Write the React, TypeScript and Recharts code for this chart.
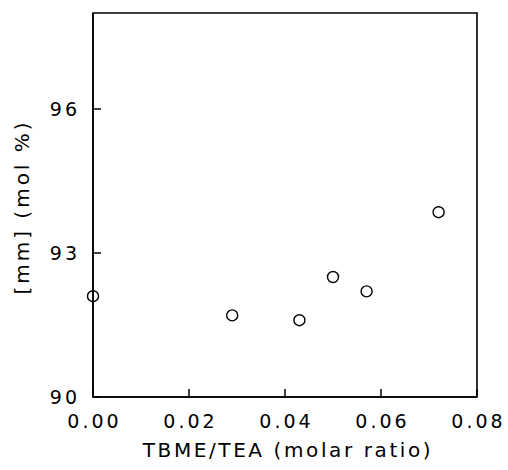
import React from 'react';
import { ScatterChart, Scatter, XAxis, YAxis, ReferenceArea, Label } from 'recharts';

// TBME/TEA molar ratio vs. isotactic triad [mm]
const ratios = [0.0, 0.029, 0.043, 0.05, 0.057, 0.072];
const mmPercent = [92.1, 91.7, 91.6, 92.5, 92.2, 93.85];
const xTicks = [0, 0.02, 0.04, 0.06, 0.08];
const yTicks = [90, 93, 96];

const points = ratios.map((r, i) => ({ ratio: r, mm: mmPercent[i] }));

const FONT = '"DejaVu Sans", sans-serif';
const TICK_LEN = 8;
const SPACING = 3;

const XTick = (props: any) => {
  const { x, y, payload } = props;
  return (
    <g>
      <line x1={x} x2={x} y1={y} y2={y - TICK_LEN} stroke="#000" strokeWidth={1.5} />
      <text
        x={x + SPACING / 2}
        y={y + 31}
        textAnchor="middle"
        fontFamily={FONT}
        fontSize={19}
        letterSpacing={SPACING}
        fill="#000"
      >
        {Number(payload.value).toFixed(2)}
      </text>
    </g>
  );
};

const YTick = (props: any) => {
  const { x, y, payload } = props;
  return (
    <g>
      <line x1={x} x2={x + TICK_LEN} y1={y} y2={y} stroke="#000" strokeWidth={1.5} />
      <text
        x={x - 16 + SPACING}
        y={y + 7}
        textAnchor="end"
        fontFamily={FONT}
        fontSize={19}
        letterSpacing={SPACING}
        fill="#000"
      >
        {payload.value}
      </text>
    </g>
  );
};

const OpenCircle = (props: any) => (
  <circle cx={props.cx} cy={props.cy} r={5.5} fill="none" stroke="#000" strokeWidth={1.4} />
);

export default function App() {
  return (
    <div style={{ position: 'absolute', left: 0, top: 0, background: '#fff' }}>
      <ScatterChart width={508} height={470} margin={{ top: 13, right: 31, bottom: 0, left: 0 }}>
        <XAxis
          type="number"
          dataKey="ratio"
          domain={[0, 0.08]}
          ticks={xTicks}
          tick={<XTick />}
          tickLine={false}
          tickSize={0}
          tickMargin={0}
          height={73}
          axisLine={{ stroke: '#000', strokeWidth: 1.6 }}
          interval={0}
        >
          <Label
            content={(p: any) => {
              const vb = p.viewBox;
              return (
                <text
                  x={vb.x + vb.width / 2 + 3}
                  y={vb.y + 60}
                  textAnchor="middle"
                  fontFamily={FONT}
                  fontSize={20}
                  letterSpacing={2.6}
                  fill="#000"
                >
                  TBME/TEA (molar ratio)
                </text>
              );
            }}
          />
        </XAxis>
        <YAxis
          type="number"
          dataKey="mm"
          domain={[90, 98]}
          ticks={yTicks}
          tick={<YTick />}
          tickLine={false}
          tickSize={0}
          tickMargin={0}
          width={93}
          axisLine={{ stroke: '#000', strokeWidth: 1.6 }}
          interval={0}
        >
          <Label
            content={(p: any) => {
              const vb = p.viewBox;
              const cx = vb.x + 22;
              const cy = vb.y + vb.height / 2 + 2;
              return (
                <text
                  x={cx}
                  y={cy}
                  transform={`rotate(-90, ${cx}, ${cy})`}
                  textAnchor="middle"
                  dominantBaseline="central"
                  fontFamily={FONT}
                  fontSize={20}
                  letterSpacing={3}
                  fill="#000"
                >
                  [mm] (mol %)
                </text>
              );
            }}
          />
        </YAxis>
        <ReferenceArea
          x1={0}
          x2={0.08}
          y1={90}
          y2={98}
          fill="none"
          stroke="#000"
          strokeWidth={1.6}
          ifOverflow="visible"
        />
        <Scatter data={points} shape={<OpenCircle />} isAnimationActive={false} />
      </ScatterChart>
    </div>
  );
}
